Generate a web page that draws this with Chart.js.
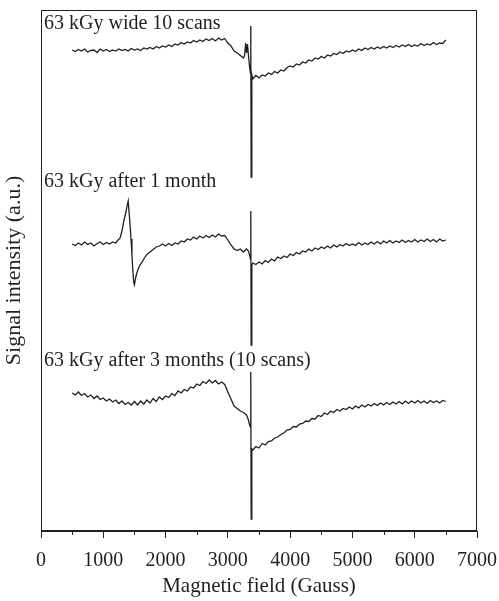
<!DOCTYPE html>
<html lang="en">
<head>
    <meta charset="UTF-8">
    <title>EPR spectra</title>
    <script src="https://cdn.jsdelivr.net/npm/chart.js"></script>
    <style>
        * {
            margin: 0;
            padding: 0;
            box-sizing: border-box;
        }

        body {
            background-color: #fff;
        }

        .chart-box {
            width: 499px;
            height: 601px;
        }
    </style>
</head>
<body>
    <div class="chart-box">
        <canvas id="eprChart"></canvas>
    </div>

    <script>
        // Trace names, as written inside the plot
        const traceLabels = ['63 kGy wide 10 scans', '63 kGy after 1 month', '63 kGy after 3 months (10 scans)'];
        // where each name sits (signal units, baseline of the text)
        const labelLevels = [502, 344, 165];

        // 63 kGy wide, 10 scans
        const wideField = [500, 550, 600, 650, 700, 750, 800, 850, 900, 950, 1000, 1050, 1100, 1150, 1200, 1250, 1300, 1350, 1400, 1450,
            1500, 1550, 1600, 1650, 1700, 1750, 1800, 1850, 1900, 1950, 2000, 2050, 2100, 2150, 2200, 2250, 2300, 2350, 2400, 2450,
            2500, 2550, 2600, 2650, 2700, 2750, 2800, 2850, 2900, 2950, 3000, 3050, 3100, 3150, 3200, 3250,
            3270, 3285, 3300, 3315, 3330, 3350, 3362, 3368, 3374, 3385,
            3400, 3450, 3500, 3550, 3600, 3650, 3700, 3750, 3800, 3850, 3900, 3950, 4000, 4050, 4100, 4150, 4200, 4250, 4300, 4350,
            4400, 4450, 4500, 4550, 4600, 4650, 4700, 4750, 4800, 4850, 4900, 4950, 5000, 5050, 5100, 5150, 5200, 5250, 5300, 5350,
            5400, 5450, 5500, 5550, 5600, 5650, 5700, 5750, 5800, 5850, 5900, 5950, 6000, 6050, 6100, 6150, 6200, 6250, 6300, 6350,
            6400, 6450, 6500];
        const wideSignal = [481, 479.5, 481.5, 480, 482, 479, 480.5, 481, 478.5, 482, 480, 481.5, 479.5, 481, 480, 482, 480.5, 481.5, 480, 482.5,
            481, 482, 480.5, 483, 482, 483.5, 482, 484.5, 483, 485, 484, 486, 484.5, 487, 486, 488.5, 487, 489, 488, 490.5,
            489, 491, 489.5, 492, 490.5, 492.5, 490, 493, 491, 492.5, 488, 485, 480, 478, 475.5, 473,
            476, 488, 478, 487, 476, 463, 458, 505, 354, 456,
            452, 455.5, 453, 456, 455, 458, 456.5, 459.5, 458, 461, 460, 463.5, 465, 464, 467, 466, 469, 468, 471, 470,
            473, 472, 474.5, 473, 476, 475, 477.5, 476.5, 479, 477.5, 480, 479, 481, 479.5, 482, 480.5, 483, 481.5, 483.5, 482,
            484, 482.5, 484.5, 483, 485, 483.5, 485.5, 484, 486, 484.5, 486.5, 484.5, 486, 485, 487.5, 485.5, 487, 486, 488.5, 486.5,
            488, 487.5, 491];

        // 63 kGy after 1 month
        const monthField = [500, 550, 600, 650, 700, 750, 800, 850, 900, 950, 1000, 1050, 1100, 1150, 1200,
            1230, 1270, 1300, 1330, 1360, 1385, 1400, 1415, 1430, 1445, 1460, 1475, 1490, 1500, 1515, 1535, 1560, 1590, 1620,
            1650, 1700, 1750, 1800, 1850, 1900, 1950, 2000, 2050, 2100, 2150, 2200, 2250, 2300, 2350, 2400, 2450,
            2500, 2550, 2600, 2650, 2700, 2750, 2800, 2850, 2900, 2950, 3000, 3050, 3100, 3150, 3200, 3250, 3300,
            3330, 3350, 3362, 3368, 3374, 3385,
            3400, 3450, 3500, 3550, 3600, 3650, 3700, 3750, 3800, 3850, 3900, 3950, 4000, 4050, 4100, 4150, 4200, 4250, 4300, 4350,
            4400, 4450, 4500, 4550, 4600, 4650, 4700, 4750, 4800, 4850, 4900, 4950, 5000, 5050, 5100, 5150, 5200, 5250, 5300, 5350,
            5400, 5450, 5500, 5550, 5600, 5650, 5700, 5750, 5800, 5850, 5900, 5950, 6000, 6050, 6100, 6150, 6200, 6250, 6300, 6350,
            6400, 6450, 6500];
        const monthSignal = [287, 285.5, 288, 286, 289, 286.5, 288, 285, 287.5, 289, 286.5, 288.5, 287, 289, 288,
            290.5, 293, 300, 310, 318, 326, 330, 318, 306, 292, 276, 260, 248, 246, 252, 257, 262, 266, 268.5,
            272, 276.5, 279, 281.5, 284, 285, 287, 285, 287.5, 285.5, 288, 287, 290, 289, 292, 291, 294,
            292, 295, 293, 295.5, 293.5, 296, 294, 297, 295, 295.5, 291, 286, 282, 280.5, 282, 279, 282,
            280, 276, 272, 320, 186, 266,
            268, 266.5, 269, 267, 270.5, 268.5, 272, 270, 274, 272.5, 275, 273.5, 277, 275.5, 278.5, 277, 280, 279, 282, 280,
            283, 281.5, 284, 282.5, 285, 283, 286, 284, 286.5, 285, 287.5, 285.5, 287, 285.5, 288.5, 286, 288, 286.5, 289, 287,
            289.5, 287, 290, 288, 290.5, 288, 290, 288.5, 291, 288.5, 290.5, 289, 291.5, 289, 291, 289.5, 292, 289.5, 291.5, 289,
            292, 290, 291];

        // 63 kGy after 3 months, 10 scans
        const threeField = [500, 550, 600, 650, 700, 750, 800, 850, 900, 950, 1000, 1050, 1100, 1150, 1200, 1250, 1300, 1350, 1400, 1450,
            1500, 1550, 1600, 1650, 1700, 1750, 1800, 1850, 1900, 1950, 2000, 2050, 2100, 2150, 2200, 2250, 2300, 2350, 2400, 2450,
            2500, 2550, 2600, 2650, 2700, 2750, 2800, 2850, 2900, 2950, 3000, 3050, 3100, 3150, 3200, 3250, 3300,
            3330, 3350, 3362, 3368, 3374, 3385,
            3400, 3450, 3500, 3550, 3600, 3650, 3700, 3750, 3800, 3850, 3900, 3950, 4000, 4050, 4100, 4150, 4200, 4250, 4300, 4350,
            4400, 4450, 4500, 4550, 4600, 4650, 4700, 4750, 4800, 4850, 4900, 4950, 5000, 5050, 5100, 5150, 5200, 5250, 5300, 5350,
            5400, 5450, 5500, 5550, 5600, 5650, 5700, 5750, 5800, 5850, 5900, 5950, 6000, 6050, 6100, 6150, 6200, 6250, 6300, 6350,
            6400, 6450, 6500];
        const threeSignal = [138, 136, 139, 135.5, 137.5, 134, 136, 132.5, 135, 131.5, 133, 130, 132, 129, 131, 127.5, 130, 126.5, 128.5, 126,
            129.5, 126, 130, 127, 131, 128, 132.5, 129.5, 134, 131.5, 135, 133.5, 137.5, 135.5, 140, 138, 141.5, 140, 144, 143,
            147, 145.5, 149.5, 147.5, 151, 148, 150.5, 147, 149, 146.5, 139, 132, 125, 122.5, 120, 118.5, 116,
            111, 106, 104, 159, 12, 82,
            81, 84.5, 83, 87.5, 86, 89.5, 90, 93, 94, 96.5, 98, 101, 101.5, 104.5, 104, 107, 107.5, 110, 109.5, 112.5,
            112, 115.5, 114.5, 118, 116.5, 120, 118.5, 121.5, 120, 122.5, 121.5, 124, 122, 125, 123, 126, 124, 126.5, 125, 127.5,
            125.5, 128, 126, 128.5, 126.5, 129, 127, 129.5, 127, 130, 127.5, 130, 128, 130.5, 128, 130, 127.5, 130.5, 128.5, 130,
            128, 130.5, 129.5];

        const toPoints = (xs, ys) => xs.map((x, i) => ({ x: x, y: ys[i] }));
        const serif = '"Liberation Serif", "DejaVu Serif", serif';
        const ink = '#231f20';

        // frame, minor ticks and trace names
        const decorations = {
            id: 'decorations',
            afterDraw(chart) {
                const ctx = chart.ctx;
                const area = chart.chartArea;
                const xs = chart.scales.x;
                const ys = chart.scales.y;
                ctx.save();
                ctx.strokeStyle = ink;
                ctx.lineWidth = 1;
                ctx.strokeRect(area.left + 0.5, area.top + 0.5, area.right - area.left - 1, area.bottom - area.top - 1);

                // minor ticks every 500 between the labelled ones
                ctx.beginPath();
                for (let v = 500; v < 7000; v += 1000) {
                    const px = Math.round(xs.getPixelForValue(v)) + 0.5;
                    ctx.moveTo(px, area.bottom);
                    ctx.lineTo(px, area.bottom + 4);
                }
                ctx.stroke();

                ctx.fillStyle = ink;
                ctx.font = '20px ' + serif;
                ctx.textAlign = 'left';
                ctx.textBaseline = 'alphabetic';
                traceLabels.forEach((t, i) => {
                    ctx.fillText(t, area.left + 3, ys.getPixelForValue(labelLevels[i]));
                });
                ctx.restore();
            }
        };

        const lineStyle = {
            borderColor: ink,
            borderWidth: 1.3,
            pointRadius: 0,
            tension: 0,
            fill: false
        };

        new Chart(document.getElementById('eprChart'), {
            type: 'line',
            data: {
                datasets: [
                    Object.assign({ label: traceLabels[0], data: toPoints(wideField, wideSignal) }, lineStyle),
                    Object.assign({ label: traceLabels[1], data: toPoints(monthField, monthSignal) }, lineStyle),
                    Object.assign({ label: traceLabels[2], data: toPoints(threeField, threeSignal) }, lineStyle)
                ]
            },
            options: {
                responsive: true,
                maintainAspectRatio: false,
                animation: false,
                layout: {
                    padding: { top: 10, right: 22, left: 0, bottom: 0 }
                },
                plugins: {
                    legend: { display: false },
                    tooltip: { enabled: false }
                },
                scales: {
                    x: {
                        type: 'linear',
                        min: 0,
                        max: 7000,
                        ticks: {
                            stepSize: 1000,
                            color: ink,
                            padding: 11,
                            maxRotation: 0,
                            font: { family: serif, size: 20 },
                            callback: v => String(v)
                        },
                        grid: {
                            drawOnChartArea: false,
                            drawTicks: true,
                            tickLength: 7,
                            tickColor: ink
                        },
                        border: { display: true, color: ink },
                        title: {
                            display: true,
                            text: 'Magnetic field (Gauss)',
                            color: ink,
                            padding: { top: 2, bottom: 2 },
                            font: { family: serif, size: 21 }
                        },
                        afterFit: scale => {
                            scale.height = 70;
                            scale.paddingLeft = 0;
                            scale.paddingRight = 0;
                        }
                    },
                    y: {
                        min: 0,
                        max: 521,
                        ticks: { display: false },
                        grid: { display: false, drawTicks: false },
                        border: { display: true, color: ink },
                        title: {
                            display: true,
                            text: 'Signal intensity (a.u.)',
                            color: ink,
                            padding: { top: 1, bottom: 2 },
                            font: { family: serif, size: 22 }
                        },
                        afterFit: scale => { scale.width = 41; }
                    }
                }
            },
            plugins: [decorations]
        });
    </script>
</body>
</html>
